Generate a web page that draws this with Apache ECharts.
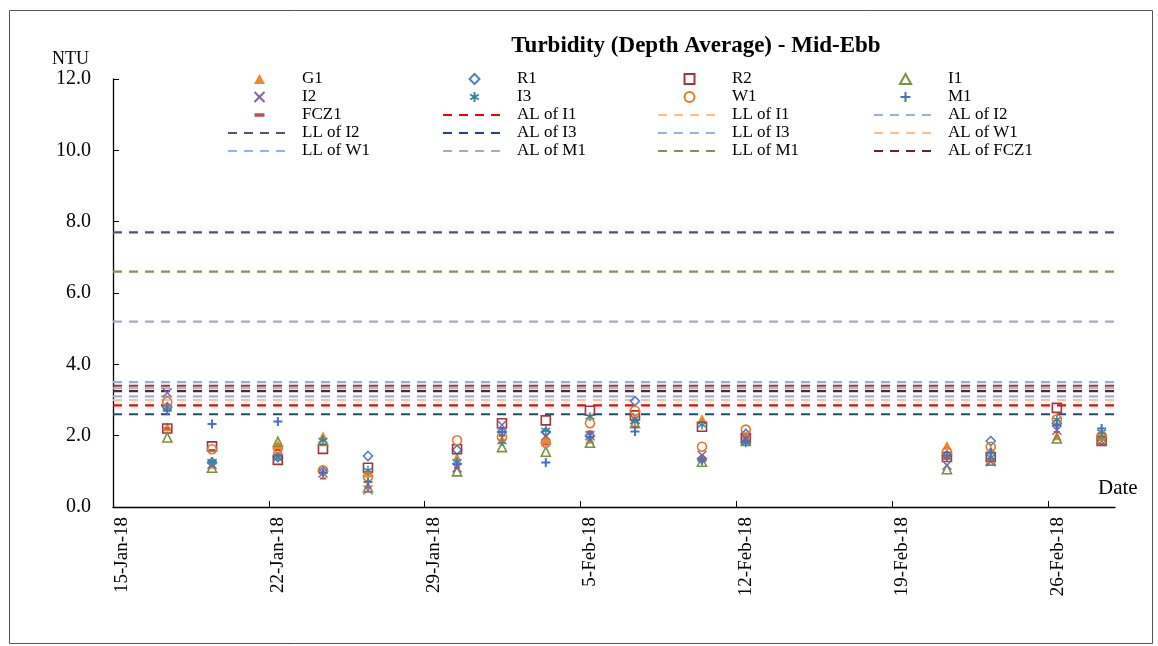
<!DOCTYPE html>
<html>
<head>
<meta charset="utf-8">
<script src="https://cdn.jsdelivr.net/npm/echarts@6/dist/echarts.min.js"></script>
<style>
  html, body { margin: 0; background: #fff; }
  #chart { width: 1158px; height: 646px; }
</style>
</head>
<body>
<div id="chart"></div>
<script>
// sampling times (mid-ebb)
var sampleTimes = ['2018-01-17T10:30', '2018-01-19T10:45', '2018-01-22T09:40', '2018-01-24T10:20',
  '2018-01-26T10:50', '2018-01-30T10:50', '2018-02-01T11:15', '2018-02-03T10:30',
  '2018-02-05T10:05', '2018-02-07T10:35', '2018-02-10T10:50', '2018-02-12T10:05',
  '2018-02-21T10:50', '2018-02-23T10:05', '2018-02-26T09:20', '2018-02-28T09:35'];

// depth-averaged turbidity (NTU) per station
var G1   = [2.25, 1.20, 1.75, 2.00, 0.95, 1.40, 1.90, 1.90, 1.90, 2.50, 2.48, 2.00, 1.73, 1.60, 2.00, 2.00];
var R1   = [2.80, 1.25, 1.40, 1.00, 1.43, 1.60, 2.10, 2.10, 2.00, 2.97, 1.35, 2.05, 1.45, 1.85, 2.35, 2.00];
var R2   = [2.20, 1.70, 1.32, 1.63, 1.10, 1.62, 2.35, 2.43, 2.70, 2.57, 2.25, 1.93, 1.40, 1.40, 2.78, 1.85];
var I1   = [1.95, 1.10, 1.83, 1.85, 0.55, 1.00, 1.68, 1.55, 1.80, 2.35, 1.27, 1.85, 1.06, 1.30, 1.92, 1.90];
var I2   = [3.20, 1.20, 1.40, 0.95, 0.48, 1.10, 2.30, 2.00, 2.00, 2.45, 1.45, 1.90, 1.17, 1.27, 2.15, 1.85];
var I3   = [2.80, 1.27, 1.40, 1.87, 1.03, 1.27, 1.83, 2.15, 2.53, 2.40, 2.30, 1.80, 1.40, 1.40, 2.45, 2.10];
var W1   = [2.95, 1.62, 1.65, 1.03, 0.85, 1.87, 1.97, 1.80, 2.35, 2.70, 1.69, 2.17, 1.55, 1.69, 2.46, 2.00];
var M1   = [2.70, 2.33, 2.40, 0.95, 0.70, 1.20, 2.10, 1.25, 1.97, 2.12, 1.30, 1.85, 1.45, 1.52, 2.30, 2.20];
var FCZ1 = [2.20, 1.60, 1.60, 0.80, 0.55, 1.10, 2.00, 1.75, 2.12, 2.25, 1.35, 1.95, 1.35, 1.30, 2.10, 1.75];

// action / limit levels
var levelNames  = ['AL of I1', 'LL of I1', 'AL of I2', 'LL of I2', 'AL of I3', 'LL of I3',
  'AL of W1', 'LL of W1', 'AL of M1', 'LL of M1', 'AL of FCZ1', 'AL of FCZ1'];
var levelValues = [2.85, 3.0, 3.5, 7.7, 2.6, 3.33, 3.0, 3.1, 5.2, 6.6, 3.25, 3.4];
var levelColors = ['#ff0000', '#fac090', '#95b3d7', '#604a7b', '#1f497d', '#8eb4e3',
  '#fac090', '#8eb4e3', '#b3a2c7', '#948a54', '#632523', '#953735'];

var yTicks = [0, 2, 4, 6, 8, 10, 12];
var months = ['Jan', 'Feb', 'Mar', 'Apr', 'May', 'Jun', 'Jul', 'Aug', 'Sep', 'Oct', 'Nov', 'Dec'];
var base = Date.parse('2018-01-15T00:00Z');
var dayMs = 86400000;
var xMax = 45; // 1-Mar-18

function dayOffset(s) {
  return (Date.parse(s + 'Z') - base) / dayMs;
}
function pairs(vals) {
  return vals.map(function (v, i) { return [dayOffset(sampleTimes[i]), v]; });
}

var serif = 'Liberation Serif, Times New Roman, serif';
var none = 'rgba(0,0,0,0)';

// marker shapes as paths so the legend keeps their aspect
var triPath = 'path://M5,0L10,9L0,9Z';
var diaPath = 'path://M5,0L10,5L5,10L0,5Z';
var sqPath = 'path://M0,0L10,0L10,10L0,10Z';
var crossPath = 'path://M0,0L10,10M10,0L0,10';
var starPath = 'path://M5,0L5,10M0.7,2.5L9.3,7.5M0.7,7.5L9.3,2.5';
var plusPath = 'path://M5,0L5,10M0,5L10,5';
var dashPath = 'path://M3,-2L3,4M0,0L6,0L6,2L0,2Z';

var stations = [
  { name: 'G1', data: G1, symbol: triPath, size: 9, fill: '#f0862e', stroke: '#f0862e', bw: 0 },
  { name: 'R1', data: R1, symbol: diaPath, size: 9, fill: none, stroke: '#4f81bd', bw: 1.6 },
  { name: 'R2', data: R2, symbol: sqPath, size: 9, fill: none, stroke: '#a0363a', bw: 1.6 },
  { name: 'I1', data: I1, symbol: triPath, size: 9, fill: none, stroke: '#77933c', bw: 1.6 },
  { name: 'I2', data: I2, symbol: crossPath, size: 9, fill: none, stroke: '#8064a2', bw: 1.4 },
  { name: 'I3', data: I3, symbol: starPath, size: 9, fill: none, stroke: '#31859c', bw: 1.4 },
  { name: 'W1', data: W1, symbol: 'circle', size: 9, fill: none, stroke: '#e0782a', bw: 1.6 },
  { name: 'M1', data: M1, symbol: plusPath, size: 9, fill: none, stroke: '#4472c4', bw: 2 },
  { name: 'FCZ1', data: FCZ1, symbol: dashPath, size: 6, fill: '#c0504d', stroke: none, bw: 0 }
];

var series = [];
levelNames.forEach(function (n, i) {
  series.push({
    name: n,
    type: 'line',
    symbol: 'none',
    silent: true,
    data: [[0, levelValues[i]], [xMax, levelValues[i]]],
    lineStyle: { color: levelColors[i], width: 2.2, type: [9, 7] },
    itemStyle: { color: levelColors[i] },
    z: 2
  });
});
stations.forEach(function (s) {
  series.push({
    name: s.name,
    type: 'scatter',
    symbol: s.symbol,
    symbolSize: s.size,
    data: pairs(s.data),
    itemStyle: { color: s.fill, borderColor: s.stroke, borderWidth: s.bw, opacity: 1 },
    z: 3
  });
});

var legendCols = [
  ['G1', 'I2', 'FCZ1', 'LL of I2', 'LL of W1'],
  ['R1', 'I3', 'AL of I1', 'AL of I3', 'AL of M1'],
  ['R2', 'W1', 'LL of I1', 'LL of I3', 'LL of M1'],
  ['I1', 'M1', 'AL of I2', 'AL of W1', 'AL of FCZ1']
];
var legendLeft = [227, 442, 657, 873];
var legends = legendCols.map(function (col, i) {
  return {
    orient: 'vertical',
    left: legendLeft[i],
    top: 70,
    padding: 0,
    itemWidth: 63,
    itemHeight: 10,
    itemGap: 0,
    selectedMode: false,
    data: col.map(function (n) {
      if (levelNames.indexOf(n) >= 0) {
        // dashed line only, no marker in the key
        return { name: n, itemStyle: { color: none, borderColor: none, borderWidth: 0 } };
      }
      return { name: n };
    }),
    textStyle: { fontFamily: serif, fontSize: 17, color: '#000', lineHeight: 18, padding: [0, 0, 0, 6] }
  };
});

var myChart = echarts.init(document.getElementById('chart'));
var option = {
  backgroundColor: '#fff',
  animation: false,
  title: {
    text: 'Turbidity (Depth Average) - Mid-Ebb',
    left: 691,
    top: 30,
    textAlign: 'center',
    textStyle: { fontFamily: serif, fontSize: 23, fontWeight: 'bold', color: '#000' }
  },
  legend: legends,
  grid: { left: 113, top: 79, right: 43, bottom: 139 },
  xAxis: {
    type: 'value',
    min: 0,
    max: xMax,
    interval: 7,
    splitLine: { show: false },
    axisLine: { lineStyle: { color: '#000', width: 1.3 } },
    axisTick: { inside: true, length: 6, lineStyle: { color: '#000' } },
    axisLabel: {
      rotate: 90,
      margin: 10,
      verticalAlign: 'top',
      showMaxLabel: false,
      fontFamily: serif,
      fontSize: 19,
      color: '#000',
      formatter: function (v) {
        var d = new Date(base + v * dayMs);
        return d.getUTCDate() + '-' + months[d.getUTCMonth()] + '-18';
      }
    }
  },
  yAxis: {
    type: 'value',
    min: yTicks[0],
    max: yTicks[yTicks.length - 1],
    interval: 2,
    splitLine: { show: false },
    axisLine: { show: true, lineStyle: { color: '#000', width: 1.3 } },
    axisTick: { show: true, inside: true, length: 6, lineStyle: { color: '#000' } },
    axisLabel: {
      margin: 22,
      fontFamily: serif,
      fontSize: 20,
      color: '#000',
      formatter: function (v) { return v.toFixed(1); }
    }
  },
  graphic: [
    { type: 'rect', left: 7, top: 8, shape: { width: 1143, height: 633 }, style: { fill: 'none', stroke: '#555', lineWidth: 1 }, silent: true },
    { type: 'text', left: 52, top: 50, style: { text: 'NTU', font: '18px ' + serif, fill: '#000' } },
    { type: 'text', left: 1098, top: 478, style: { text: 'Date', font: '21px ' + serif, fill: '#000' } }
  ],
  series: series
};
myChart.setOption(option);
</script>
</body>
</html>
